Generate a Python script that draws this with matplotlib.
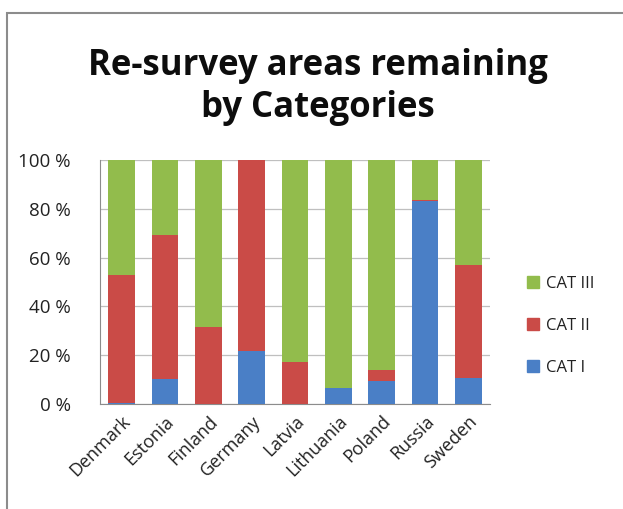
import matplotlib
matplotlib.use("Agg")
import matplotlib.pyplot as plt
import numpy as np
from matplotlib.patches import Rectangle
from matplotlib.lines import Line2D

countries = ["Denmark", "Estonia", "Finland", "Germany", "Latvia",
             "Lithuania", "Poland", "Russia", "Sweden"]
cat_i = [0.5, 10.3, 0.0, 21.6, 0.0, 6.6, 9.6, 83.4, 10.7]
cat_ii = [52.5, 59.0, 31.5, 78.4, 17.1, 0.0, 4.4, 0.3, 46.2]
cat_iii = [47.0, 30.7, 68.5, 0.0, 82.9, 93.4, 86.0, 16.3, 43.1]
yticks = [0, 20, 40, 60, 80, 100]

blue = "#4A7FC6"
red = "#CA4B47"
green = "#92BC4C"

plt.rcParams["font.family"] = ["Open Sans", "DejaVu Sans"]

fig = plt.figure(figsize=(6.23, 5.09), dpi=100)
W, H = 623, 509
# plot area in pixels: x 100..490, y 160..404 (from top)
ax = fig.add_axes([100 / W, 1 - 404 / H, 390 / W, 244 / H])

x = np.arange(len(countries))
b1 = np.array(cat_i)
b2 = np.array(cat_ii)
b3 = np.array(cat_iii)
bw = 0.62
ax.bar(x, b1, bw, color=blue, label="CAT I", zorder=3)
ax.bar(x, b2, bw, bottom=b1, color=red, label="CAT II", zorder=3)
ax.bar(x, b3, bw, bottom=b1 + b2, color=green, label="CAT III", zorder=3)

ax.set_xlim(-0.5, len(countries) - 0.5)
ax.set_ylim(0, 100)
ax.set_yticks(yticks)
ax.set_yticklabels([f"{v} %" for v in yticks], fontsize=13.5, color="#222222")
ax.yaxis.grid(True, color="#BFBFBF", linewidth=0.9, zorder=0)
ax.tick_params(axis="y", length=0, pad=21)
ax.tick_params(axis="x", length=0, pad=6)
ax.set_xticks(x)
ax.set_xticklabels(countries, rotation=45, ha="right", rotation_mode="anchor",
                   fontsize=13, color="#222222")
for s in ["top", "right"]:
    ax.spines[s].set_visible(False)
ax.spines["left"].set_color("#8C8C8C")
ax.spines["bottom"].set_color("#8C8C8C")

handles = [Line2D([], [], marker="s", linestyle="none", markersize=8,
                  markerfacecolor=c, markeredgecolor=c) for c in (green, red, blue)]
fig.legend(handles, ["CAT III", "CAT II", "CAT I"], loc="center left",
           bbox_to_anchor=(510 / W, 1 - 326 / H), frameon=False,
           fontsize=12, labelspacing=1.55, handletextpad=0.25,
           handlelength=1.0, labelcolor="#222222")

fig.text(318 / W, 1 - 87 / H, "Re-survey areas remaining\nby Categories",
         ha="center", va="center", fontsize=25, fontweight="bold",
         linespacing=1.22, color="#0D0D0D")

# outer chart border
fig.add_artist(Rectangle((7 / W, -0.1), 1.2, 1 - 13 / H + 0.1,
                         transform=fig.transFigure, fill=False,
                         edgecolor="#8C8C8C", linewidth=1.5))

fig.savefig("out.png", dpi=100, facecolor="white")
